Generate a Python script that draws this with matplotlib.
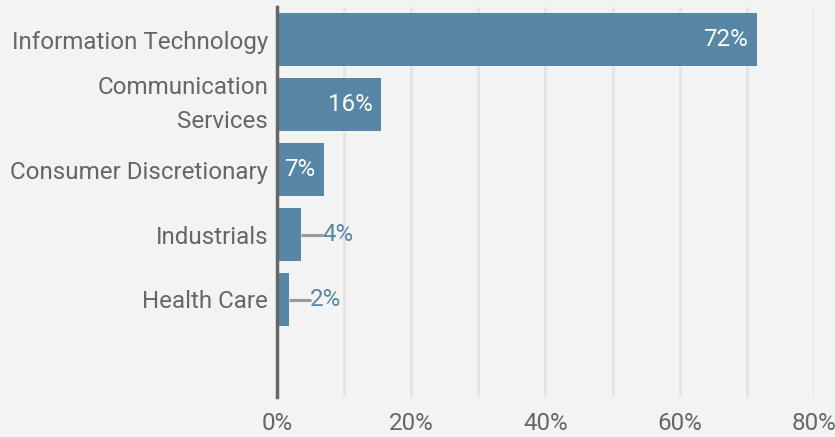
import matplotlib.pyplot as plt
import numpy as np

# data
categories = ['Information Technology', 'Communication\nServices', 'Consumer Discretionary',
              'Industrials', 'Health Care', '']
values = [71.5, 15.6, 7.1, 3.6, 1.8, 0]
x_ticks = [0, 20, 40, 60, 80]

bar_color = '#5787a5'
text_color = '#666666'
bg = '#f3f3f3'

plt.rcParams['font.family'] = ['Roboto', 'DejaVu Sans']

fig = plt.figure(figsize=(8.35, 4.37), dpi=100, facecolor=bg)
ax = fig.add_axes([276.7 / 835, 1 - 397 / 437, (814 - 276.7) / 835, 390 / 437])
ax.set_facecolor(bg)

y = np.arange(len(categories))
ax.barh(y[:5], values[:5], height=0.81, color=bar_color, zorder=3)

# labels on bars
for yi, v in zip(y[:5], values[:5]):
    lab = f'{round(v)}%'
    if v > 5:
        ax.text(v - 1.35, yi, lab, ha='right', va='center', color='white',
                fontsize=17.4, zorder=4)
    else:
        ax.plot([v, v + 3.3], [yi, yi], color='#999999', lw=2.2, zorder=4,
                solid_capstyle='butt')
        ax.text(v + 3.2, yi, lab, ha='left', va='center', color=bar_color,
                fontsize=17.4, zorder=4)

ax.set_xlim(0, 80)
ax.set_ylim(len(categories) - 0.5, -0.5)
ax.set_yticks(y)
ax.set_yticklabels(categories, linespacing=1.58)
for t in ax.get_yticklabels():
    if '\n' in t.get_text():
        t.set_va('center')
ax.set_xticks(x_ticks)
ax.set_xticklabels([f'{t}%' for t in x_ticks])
ax.set_xticks(np.arange(0, 81, 10), minor=True)
ax.tick_params(axis='both', which='both', length=0, labelsize=17.4, colors=text_color)
ax.tick_params(axis='y', pad=6)
ax.tick_params(axis='x', pad=11)

ax.grid(axis='x', which='both', color='#e4e4e4', lw=2, zorder=0)
for s in ['top', 'right', 'bottom']:
    ax.spines[s].set_visible(False)
ax.spines['left'].set_color(text_color)
ax.spines['left'].set_linewidth(2.5)
ax.spines['left'].set_zorder(5)

fig.savefig('out.png', dpi=100, facecolor=bg)
